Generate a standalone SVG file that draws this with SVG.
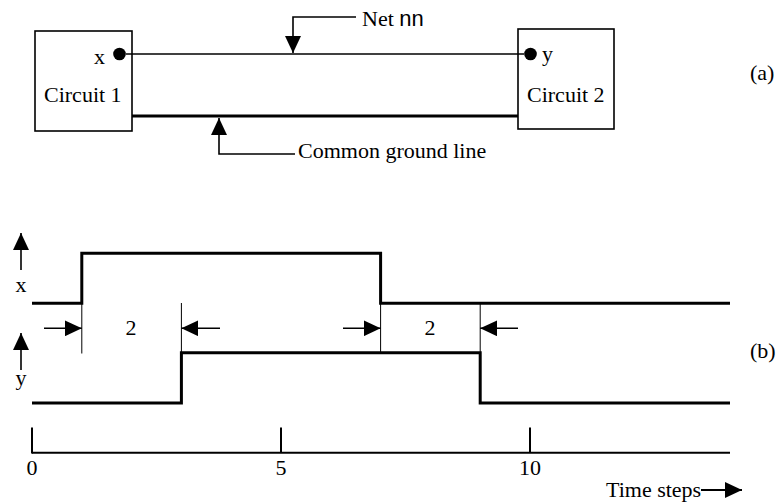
<svg xmlns="http://www.w3.org/2000/svg" width="777" height="502" viewBox="0 0 777 502">
<style>
text{font-family:"Liberation Serif","Times New Roman",serif;font-size:22px;fill:#000}
.sans{font-family:"Liberation Sans",Arial,sans-serif}
.box{fill:#fff;stroke:#000;stroke-width:1.6}
.thin{fill:none;stroke:#000;stroke-width:1.4}
.hair{fill:none;stroke:#000;stroke-width:1}
.thick{fill:none;stroke:#000;stroke-width:3}
.axis{fill:none;stroke:#000;stroke-width:2}
.arr{fill:none;stroke:#000;stroke-width:1.6;marker-end:url(#ah)}
</style>
<defs>
<marker id="ah" markerUnits="userSpaceOnUse" markerWidth="17" markerHeight="16" refX="17" refY="8" orient="auto">
<path d="M0,0 L17,8 L0,16 z" fill="#000"/>
</marker>
</defs>

<g id="circuit1">
<rect class="box" x="35" y="31" width="97" height="100"/>
<text x="94" y="64">x</text>
<text x="44" y="102">Circuit 1</text>
<circle cx="119.5" cy="54" r="6.3" fill="#000"/>
</g>

<g id="circuit2">
<rect class="box" x="518" y="29" width="96" height="100"/>
<text x="542" y="61">y</text>
<text x="527" y="102">Circuit 2</text>
<circle cx="530.5" cy="54" r="6.3" fill="#000"/>
</g>

<g id="label-net">
<text x="362" y="26">Net <tspan class="sans">nn</tspan></text>
</g>
<g id="label-ground">
<text x="298" y="158">Common ground line</text>
</g>
<g id="label-a"><text x="750" y="80">(a)</text></g>
<g id="label-b"><text x="750" y="358">(b)</text></g>

<g id="connectors">
<line class="thin" x1="126" y1="54" x2="524" y2="54"/>
<line class="thick" x1="132" y1="116" x2="518" y2="116"/>
<polyline class="arr" points="356,17 293,17 293,53"/>
<polyline class="arr" points="295,154 219,154 219,118"/>
</g>

<g id="waveform-x">
<line class="arr" x1="21" y1="270" x2="21" y2="233"/>
<text x="21" y="292" text-anchor="middle">x</text>
<polyline class="thick" points="32,303.3 81.8,303.3 81.8,253.3 380.6,253.3 380.6,303.3 730,303.3"/>
</g>

<g id="waveform-y">
<line class="arr" x1="21" y1="370" x2="21" y2="333"/>
<text x="21" y="385" text-anchor="middle">y</text>
<polyline class="thick" points="32,403 181.4,403 181.4,352.7 480.2,352.7 480.2,403 730,403"/>
</g>

<g id="delay1">
<line class="hair" x1="81.8" y1="303" x2="81.8" y2="353.5"/>
<line class="hair" x1="181.4" y1="303" x2="181.4" y2="352"/>
<line class="arr" x1="44" y1="328.3" x2="81.8" y2="328.3"/>
<line class="arr" x1="220" y1="328.3" x2="181.4" y2="328.3"/>
<text x="131" y="335" text-anchor="middle">2</text>
</g>

<g id="delay2">
<line class="hair" x1="380.6" y1="303" x2="380.6" y2="353"/>
<line class="hair" x1="480.2" y1="303" x2="480.2" y2="353"/>
<line class="arr" x1="343" y1="328.3" x2="380.6" y2="328.3"/>
<line class="arr" x1="518" y1="328.3" x2="480.2" y2="328.3"/>
<text x="430" y="335" text-anchor="middle">2</text>
</g>

<g id="time-axis">
<line class="axis" x1="32" y1="452.7" x2="730" y2="452.7"/>
<line class="axis" x1="32" y1="427.5" x2="32" y2="453.5"/>
<line class="axis" x1="281" y1="427.5" x2="281" y2="452.7"/>
<line class="axis" x1="530" y1="427.5" x2="530" y2="452.7"/>
<text x="32" y="475" text-anchor="middle">0</text>
<text x="281" y="475" text-anchor="middle">5</text>
<text x="530" y="475" text-anchor="middle">10</text>
<text x="606" y="497">Time steps</text>
<line class="arr" x1="701" y1="490" x2="742" y2="490" style="stroke-width:2"/>
</g>
</svg>
